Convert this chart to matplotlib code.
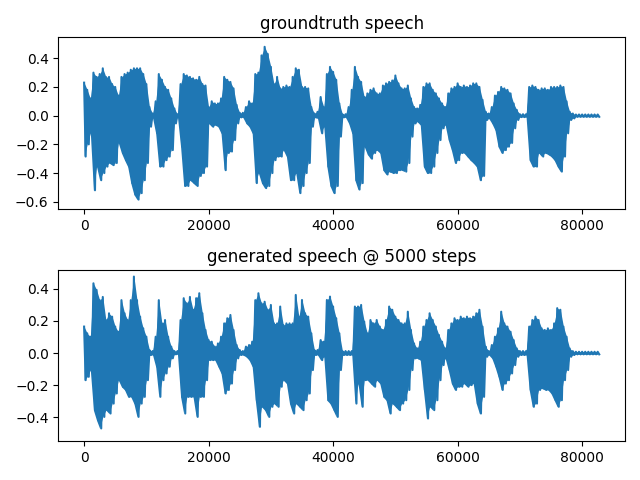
# Plot groundtruth vs generated speech waveforms
import numpy as np
import matplotlib.pyplot as plt

# Waveform envelopes, one value every 500 samples
bin_size = 500

# groundtruth speech
gt_upper = [0.23, 0.18, 0.12, 0.30, 0.27, 0.29, 0.33, 0.27, 0.27, 0.22,
            0.20, 0.14, 0.27, 0.29, 0.30, 0.32, 0.33, 0.33, 0.33, 0.29,
            0.22, 0.06, 0.015, 0.10, 0.29, 0.25, 0.20, 0.18, 0.12, 0.05,
            0.01, 0.22, 0.29, 0.28, 0.27, 0.26, 0.25, 0.27, 0.22, 0.21,
            0.06, 0.10, 0.085, 0.085, 0.12, 0.27, 0.25, 0.235, 0.19, 0.075,
            0.02, 0.02, 0.06, 0.10, 0.085, 0.29, 0.30, 0.42, 0.48, 0.43,
            0.34, 0.22, 0.27, 0.19, 0.20, 0.21, 0.20, 0.27, 0.33, 0.32,
            0.20, 0.20, 0.19, 0.06, 0.015, 0.027, 0.13, 0.06, 0.29, 0.34,
            0.305, 0.25, 0.085, 0.01, 0.01, 0.06, 0.18, 0.34, 0.27, 0.235,
            0.13, 0.155, 0.18, 0.19, 0.155, 0.155, 0.21, 0.225, 0.235, 0.245,
            0.28, 0.225, 0.19, 0.19, 0.21, 0.12, 0.06, 0.05, 0.075, 0.20,
            0.225, 0.225, 0.18, 0.155, 0.12, 0.085, 0.06, 0.155, 0.19, 0.20,
            0.225, 0.20, 0.21, 0.20, 0.21, 0.225, 0.225, 0.20, 0.11, 0.027,
            0.015, 0.06, 0.14, 0.165, 0.20, 0.19, 0.18, 0.155, 0.085, 0.04,
            0.01, 0.01, 0.01, 0.20, 0.21, 0.20, 0.18, 0.19, 0.19, 0.18,
            0.20, 0.20, 0.20, 0.21, 0.20, 0.10, 0.027, 0.015, 0.008, 0.008,
            0.008, 0.008, 0.008, 0.008, 0.008, 0.008]
gt_lower = [-0.285, -0.20, -0.12, -0.52, -0.355, -0.45, -0.40, -0.355, -0.33, -0.345,
            -0.33, -0.19, -0.26, -0.31, -0.355, -0.47, -0.55, -0.585, -0.54, -0.45,
            -0.33, -0.077, -0.015, -0.123, -0.355, -0.355, -0.31, -0.285, -0.24, -0.054,
            -0.01, -0.216, -0.49, -0.49, -0.45, -0.47, -0.49, -0.42, -0.40, -0.355,
            -0.054, -0.077, -0.065, -0.077, -0.123, -0.38, -0.26, -0.25, -0.17, -0.054,
            -0.012, -0.012, -0.054, -0.077, -0.123, -0.47, -0.40, -0.47, -0.505, -0.49,
            -0.40, -0.31, -0.285, -0.285, -0.24, -0.285, -0.45, -0.45, -0.40, -0.54,
            -0.49, -0.40, -0.33, -0.077, -0.012, -0.019, -0.123, -0.077, -0.355, -0.49,
            -0.54, -0.49, -0.146, -0.012, -0.012, -0.054, -0.123, -0.45, -0.515, -0.47,
            -0.216, -0.27, -0.30, -0.26, -0.24, -0.26, -0.38, -0.41, -0.39, -0.40,
            -0.40, -0.38, -0.38, -0.39, -0.33, -0.146, -0.054, -0.042, -0.065, -0.355,
            -0.40, -0.40, -0.355, -0.26, -0.17, -0.088, -0.065, -0.17, -0.24, -0.33,
            -0.31, -0.26, -0.26, -0.285, -0.31, -0.33, -0.355, -0.45, -0.42, -0.03,
            -0.019, -0.054, -0.10, -0.216, -0.26, -0.24, -0.216, -0.19, -0.088, -0.03,
            -0.01, -0.01, -0.01, -0.31, -0.355, -0.355, -0.26, -0.285, -0.26, -0.27,
            -0.285, -0.31, -0.355, -0.39, -0.285, -0.123, -0.03, -0.019, -0.008, -0.008,
            -0.008, -0.008, -0.008, -0.008, -0.008, -0.008]

# generated speech @ 5000 steps
gen_upper = [0.165, 0.123, 0.102, 0.435, 0.394, 0.33, 0.35, 0.206, 0.248, 0.227,
             0.165, 0.133, 0.33, 0.248, 0.206, 0.33, 0.477, 0.33, 0.227, 0.154,
             0.102, 0.019, 0.0125, 0.102, 0.33, 0.185, 0.206, 0.102, 0.04, 0.0125,
             0.0125, 0.206, 0.342, 0.31, 0.35, 0.27, 0.342, 0.373, 0.248, 0.144,
             0.081, 0.071, 0.04, 0.06, 0.102, 0.185, 0.217, 0.2375, 0.144, 0.05,
             0.019, 0.0125, 0.04, 0.05, 0.071, 0.33, 0.373, 0.31, 0.32, 0.27,
             0.30, 0.185, 0.185, 0.29, 0.175, 0.185, 0.185, 0.185, 0.3625, 0.227,
             0.331, 0.248, 0.227, 0.123, 0.019, 0.019, 0.081, 0.071, 0.331, 0.352,
             0.29, 0.217, 0.123, 0.0125, 0.0125, 0.0125, 0.0125, 0.29, 0.29, 0.30,
             0.196, 0.123, 0.206, 0.185, 0.206, 0.165, 0.144, 0.206, 0.29, 0.27,
             0.227, 0.206, 0.185, 0.185, 0.258, 0.144, 0.06, 0.029, 0.071, 0.165,
             0.206, 0.248, 0.206, 0.165, 0.1125, 0.071, 0.029, 0.144, 0.185, 0.217,
             0.206, 0.227, 0.217, 0.227, 0.217, 0.227, 0.248, 0.27, 0.165, 0.04,
             0.0125, 0.05, 0.102, 0.154, 0.258, 0.185, 0.165, 0.133, 0.081, 0.029,
             0.0125, 0.0125, 0.0125, 0.165, 0.206, 0.227, 0.206, 0.154, 0.144, 0.154,
             0.144, 0.185, 0.28, 0.27, 0.165, 0.102, 0.029, 0.012, 0.008, 0.008,
             0.008, 0.008, 0.008, 0.008, 0.008, 0.008]
gen_lower = [-0.169, -0.148, -0.106, -0.356, -0.419, -0.47, -0.398, -0.356, -0.377, -0.315,
             -0.252, -0.169, -0.21, -0.23, -0.273, -0.273, -0.315, -0.398, -0.315, -0.273,
             -0.169, -0.012, -0.012, -0.085, -0.273, -0.169, -0.127, -0.085, -0.033, -0.008,
             -0.008, -0.273, -0.377, -0.273, -0.273, -0.273, -0.398, -0.273, -0.273, -0.169,
             -0.044, -0.044, -0.044, -0.085, -0.127, -0.252, -0.23, -0.19, -0.106, -0.033,
             -0.012, -0.012, -0.023, -0.044, -0.085, -0.294, -0.46, -0.335, -0.356, -0.398,
             -0.335, -0.315, -0.335, -0.21, -0.169, -0.19, -0.315, -0.377, -0.315, -0.335,
             -0.356, -0.294, -0.252, -0.106, -0.012, -0.012, -0.044, -0.023, -0.294, -0.315,
             -0.356, -0.398, -0.106, -0.012, -0.012, -0.012, -0.012, -0.315, -0.19, -0.335,
             -0.169, -0.169, -0.19, -0.21, -0.169, -0.19, -0.273, -0.294, -0.377, -0.315,
             -0.335, -0.356, -0.315, -0.294, -0.23, -0.106, -0.033, -0.033, -0.044, -0.23,
             -0.408, -0.335, -0.356, -0.294, -0.169, -0.075, -0.033, -0.106, -0.19, -0.23,
             -0.21, -0.21, -0.19, -0.21, -0.2, -0.19, -0.315, -0.377, -0.273, -0.023,
             -0.012, -0.033, -0.085, -0.148, -0.23, -0.19, -0.169, -0.127, -0.075, -0.023,
             -0.012, -0.012, -0.012, -0.23, -0.335, -0.315, -0.23, -0.22, -0.23, -0.23,
             -0.252, -0.294, -0.335, -0.294, -0.169, -0.106, -0.023, -0.012, -0.008, -0.008,
             -0.008, -0.008, -0.008, -0.008, -0.008, -0.008]


def draw_wave(ax, upper, lower):
    # fill between the envelopes, then a zigzag on top for the spiky edges
    start = np.arange(len(upper)) * bin_size
    ax.fill_between(start, upper, lower, color='C0', linewidth=0)
    x = np.empty(2 * len(upper))
    y = np.empty(2 * len(upper))
    x[0::2] = start
    x[1::2] = start + bin_size / 2
    y[0::2] = upper
    y[1::2] = lower
    ax.plot(x, y, color='C0')


fig, (ax1, ax2) = plt.subplots(2, 1, figsize=(6.4, 4.8))

draw_wave(ax1, gt_upper, gt_lower)
ax1.set_title('groundtruth speech')
ax1.set_ylim(-0.649, 0.546)

draw_wave(ax2, gen_upper, gen_lower)
ax2.set_title('generated speech @ 5000 steps')
ax2.set_ylim(-0.55, 0.519)

plt.tight_layout()
plt.savefig('out.png', dpi=100)
